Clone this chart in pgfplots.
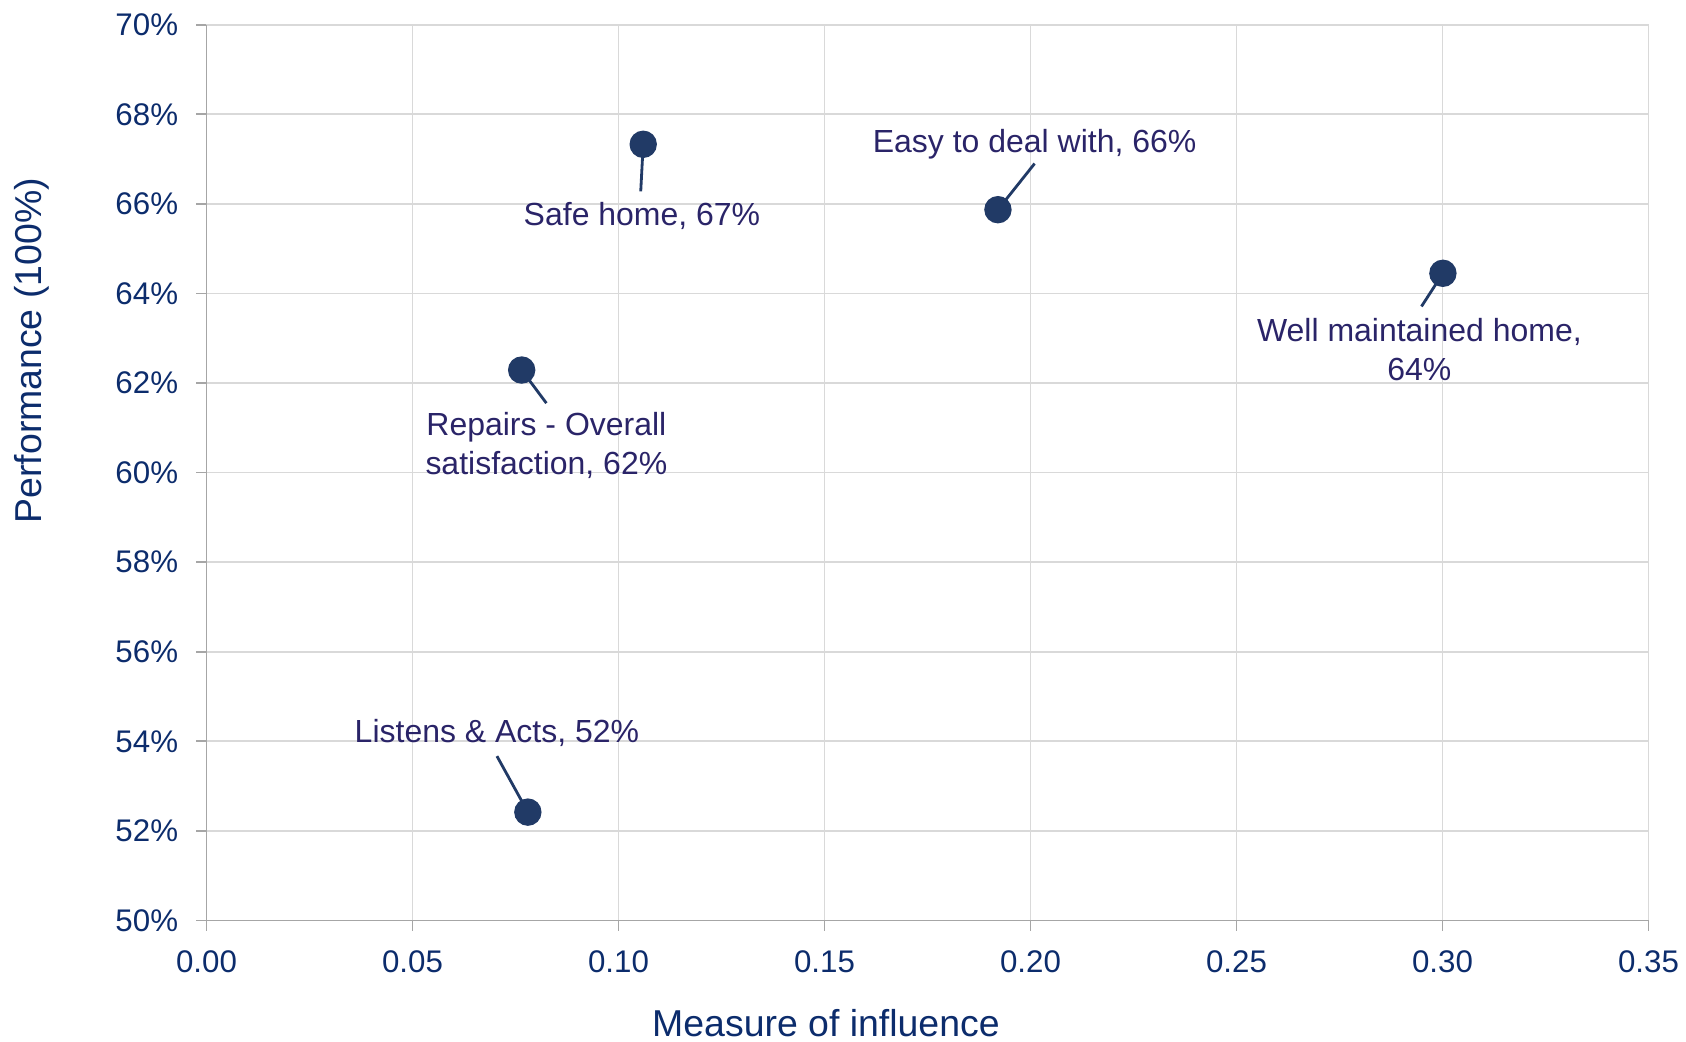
\documentclass[border=0pt]{standalone}
\usepackage{pgfplots}
\pgfplotsset{compat=1.18}
\usepackage{fontspec}
\setmainfont{Liberation Sans}
\definecolor{tickc}{HTML}{0C2C6C}
\definecolor{labc}{HTML}{2A2468}
\definecolor{dotc}{HTML}{213A66}
\definecolor{gridc}{HTML}{D9D9D9}
\definecolor{axc}{HTML}{A6A6A6}
\begin{document}
\begin{tikzpicture}
\begin{axis}[
  at={(0,0)}, anchor=south west,
  scale only axis, width=144.2mm, height=89.58mm,
  xmin=0, xmax=0.35, ymin=50, ymax=70,
  xtick={0,0.05,...,0.35}, ytick={50,52,...,70},
  xticklabel={\pgfmathprintnumber[fixed,fixed zerofill,precision=2]{\tick}},
  yticklabel={\pgfmathprintnumber[fixed,precision=0]{\tick}\%},
  /pgf/number format/assume math mode=true,
  axis x line*=bottom, axis y line*=left,
  axis line style={draw=axc, line width=0.5pt},
  x axis line style={-}, y axis line style={-},
  grid=major, major grid style={draw=gridc, line width=0.5pt},
  tick align=outside, major tick length=1mm,
  tick style={draw=axc, line width=0.5pt},
  ticklabel style={font=\fontsize{8.9pt}{10.5pt}\selectfont, text=tickc},
  yticklabel style={xshift=-0.6mm},
  xticklabel style={yshift=-0.8mm},
  xlabel={Measure of influence}, ylabel={Performance (100\%)},
  label style={font=\fontsize{10.65pt}{12pt}\selectfont, text=tickc},
  xlabel style={at={(axis description cs:0.4296,-0.1145)}, anchor=center, inner sep=0pt},
  ylabel style={at={(axis description cs:-0.121,0.636)}, anchor=center, rotate=0},
  clip=false,
]
\draw[dotc, line width=0.8pt] (axis cs:0.1060,67.33) -- (axis cs:0.1054,66.28);
\draw[dotc, line width=0.8pt] (axis cs:0.1921,65.87) -- (axis cs:0.2010,66.90);
\draw[dotc, line width=0.8pt] (axis cs:0.3001,64.45) -- (axis cs:0.2949,63.71);
\draw[dotc, line width=0.8pt] (axis cs:0.0765,62.29) -- (axis cs:0.0825,61.55);
\draw[dotc, line width=0.8pt] (axis cs:0.0780,52.42) -- (axis cs:0.0705,53.67);
\addplot[only marks, mark=*, mark size=1.3mm, mark options={fill=dotc, draw=dotc}] coordinates {
  (0.1060,67.33) (0.1921,65.87) (0.3001,64.45) (0.0765,62.29) (0.0780,52.42)
};
\begin{scope}[every node/.style={font=\fontsize{9.1pt}{11pt}\selectfont, text=labc, align=center}]
\node at (axis cs:0.1057,65.73) {Safe home, 67\%};
\node at (axis cs:0.2010,67.34) {Easy to deal with, 66\%};
\node at (axis cs:0.2944,62.75) {Well maintained home,\\64\%};
\node at (axis cs:0.0825,60.61) {Repairs - Overall\\satisfaction, 62\%};
\node at (axis cs:0.0705,54.18) {Listens \& Acts, 52\%};
\end{scope}
\end{axis}
\pgfresetboundingbox
\path (-20.65mm,-12.05mm) rectangle (147.95mm,92.05mm);
\end{tikzpicture}
\end{document}
